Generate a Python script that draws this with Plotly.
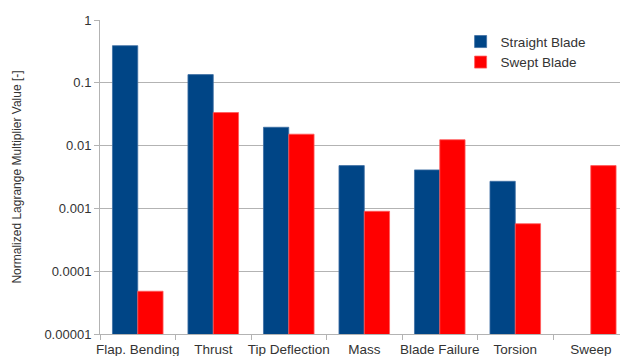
import plotly.graph_objects as go

categories = ["Flap. Bending", "Thrust", "Tip Deflection", "Mass", "Blade Failure", "Torsion", "Sweep"]
straight_blade = [0.39, 0.135, 0.0196, 0.0048, 0.0041, 0.0027, None]
swept_blade = [0.000048, 0.0336, 0.0152, 0.0009, 0.0124, 0.00057, 0.0048]
y_tickvals = [0.00001, 0.0001, 0.001, 0.01, 0.1, 1]
y_ticktext = ["0.00001", "0.0001", "0.001", "0.01", "0.1", "1"]

FONT = "Liberation Sans"
TXT = "#333333"
GRID = "#b3b3b3"

fig = go.Figure()
fig.add_trace(go.Bar(name="Straight Blade", x=categories, y=straight_blade,
                     marker=dict(color="#004586", line=dict(color="#3d6fa3", width=0.8))))
fig.add_trace(go.Bar(name="Swept Blade", x=categories, y=swept_blade,
                     marker=dict(color="#ff0000", line=dict(color="#ff5a5a", width=0.8))))

fig.update_layout(
    width=620, height=356,
    margin=dict(l=100, r=0, t=20, b=22),
    paper_bgcolor="white", plot_bgcolor="white",
    barmode="group", bargap=0.33, bargroupgap=0,
    font=dict(family=FONT, size=13, color=TXT),
    legend=dict(x=0.6935, y=0.98, xanchor="left", yanchor="top",
                font=dict(family=FONT, size=13.5, color=TXT),
                bgcolor="rgba(0,0,0,0)", itemwidth=30, tracegroupgap=0),
    xaxis=dict(type="category", range=[-0.5, 6.387], showgrid=False, automargin=False,
               showline=True, linecolor=GRID, linewidth=1, tickangle=0,
               ticks="outside", tickson="boundaries", ticklen=5, tickcolor=GRID,
               ticklabelstandoff=3,
               tickfont=dict(family=FONT, size=13.5, color=TXT)),
    yaxis=dict(type="log", range=[-5, 0], tickvals=y_tickvals, ticktext=y_ticktext,
               automargin=False,
               showgrid=True, gridcolor=GRID, gridwidth=1,
               showline=True, linecolor=GRID, linewidth=1,
               ticks="outside", ticklen=5, tickcolor=GRID,
               tickfont=dict(family=FONT, size=13, color=TXT),
               title=dict(text="Normalized Lagrange Multiplier Value [-]",
                          font=dict(family=FONT, size=12, color=TXT), standoff=20)),
)

fig.write_html("out.html")
